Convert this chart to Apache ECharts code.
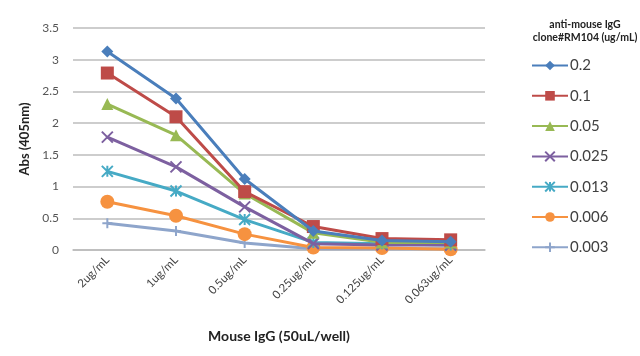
<!DOCTYPE html>
<html><head><meta charset="utf-8">
<script src="https://cdn.jsdelivr.net/npm/echarts@6/dist/echarts.min.js"></script>
<style>html,body{margin:0;padding:0;background:#fff}#c{width:640px;height:356px}</style>
</head><body><div id="c"></div>
<script>
const categories = ['2ug/mL','1ug/mL','0.5ug/mL','0.25ug/mL','0.125ug/mL','0.063ug/mL'];
const yTicks = [0,0.5,1,1.5,2,2.5,3,3.5];
const seriesNames = ['0.2','0.1','0.05','0.025','0.013','0.006','0.003'];
const s02   = [3.13, 2.39, 1.12, 0.30, 0.15, 0.13];
const s01   = [2.79, 2.10, 0.92, 0.37, 0.18, 0.16];
const s005  = [2.30, 1.81, 0.89, 0.27, 0.12, 0.12];
const s0025 = [1.78, 1.31, 0.68, 0.10, 0.08, 0.08];
const s0013 = [1.24, 0.93, 0.48, 0.12, 0.10, 0.08];
const s0006 = [0.76, 0.54, 0.25, 0.04, 0.03, 0.01];
const s0003 = [0.42, 0.30, 0.11, 0.02, 0.02, 0.02];
const values = [s02, s01, s005, s0025, s0013, s0006, s0003];
const colors = ['#4A7EBB','#BE4B48','#98B954','#7D60A0','#46AAC5','#F69240','#8EA5CB'];
const symbols = ['diamond','rect','triangle','path://M0,0L10,10M10,0L0,10','path://M0,0L10,10M10,0L0,10M5,0L5,10','circle','path://M5,0L5,10M0,5L10,5'];
const sizes = [12,13,12,11,11,14,10];
const stroked = [false,false,false,true,true,false,true];

const chart = echarts.init(document.getElementById('c'));
const font = 'Lato, "Open Sans", sans-serif';
chart.setOption({
  animation:false,
  color: colors,
  grid:{left:73,right:155,top:28,bottom:106},
  title:{text:'anti-mouse IgG\nclone#RM104 (ug/mL)',left:580,top:13,textAlign:'center',
    textStyle:{fontFamily:font,fontSize:10.5,fontWeight:'bold',color:'#222',lineHeight:13}},
  legend:{orient:'vertical',left:526,top:53,itemWidth:36,itemHeight:12,itemGap:15.3,
    data:seriesNames,textStyle:{fontFamily:font,fontSize:15,color:'#404040',padding:[0,0,0,-3]}},
  xAxis:{type:'category',data:categories,boundaryGap:true,
    axisLine:{lineStyle:{color:'#bbb',width:1.5}},axisTick:{show:false},
    axisLabel:{rotate:45,fontFamily:font,fontSize:11.5,color:'#444',margin:8,interval:0},
    name:'Mouse IgG (50uL/well)',nameLocation:'middle',nameGap:79,
    nameTextStyle:{fontFamily:font,fontSize:14,fontWeight:'bold',color:'#222'}},
  yAxis:{type:'value',min:0,max:3.5,interval:0.5,
    axisLine:{show:false},axisTick:{show:false},
    splitLine:{lineStyle:{color:'#bdbdbd',width:1.5}},
    axisLabel:{fontFamily:font,fontSize:12,color:'#555',margin:14,
      formatter:v=>yTicks.includes(v)?String(v):''},
    name:'Abs (405nm)',nameLocation:'middle',nameGap:41,
    nameTextStyle:{fontFamily:font,fontSize:13,fontWeight:'bold',color:'#222'}},
  series: seriesNames.map((n,i)=>({
    name:n,type:'line',data:values[i],symbol:symbols[i],symbolSize:sizes[i],
    lineStyle:{width:3,color:colors[i]},
    itemStyle: stroked[i]?{color:colors[i],borderColor:colors[i],borderWidth:2}:{color:colors[i]},
    z: 10-i
  }))
});
</script></body></html>
